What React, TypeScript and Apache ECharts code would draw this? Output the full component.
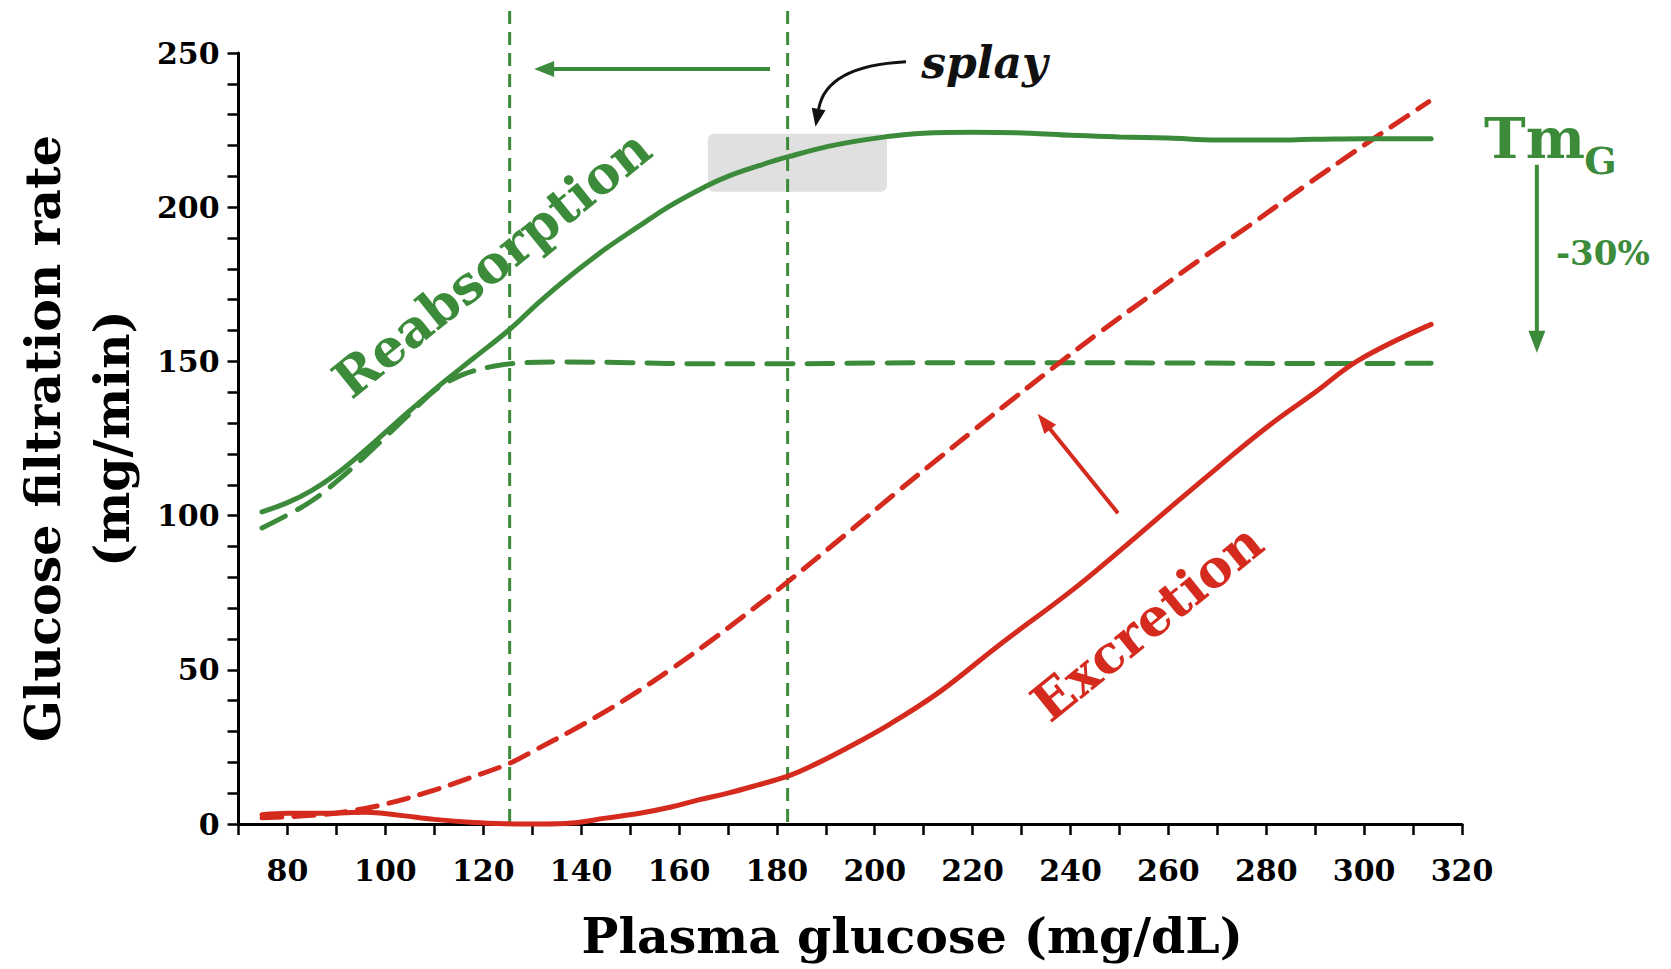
import React, { useEffect, useRef } from "react";
import * as echarts from "echarts";

const GREEN = "#3b8b3a";
const RED = "#d52a1e";
const FONT = '"DejaVu Serif", "Liberation Serif", serif';

// x axis (Plasma glucose, mg/dL) and y axis (mg/min)
const xMin = 70;
const xMax = 320;
const xStep = 10;
const xLabelStep = 20;
const yMin = 0;
const yMax = 250;
const yStep = 10;
const yLabelStep = 50;

// Reabsorption, normal TmG (solid green)
const reabsorptionNormal: [number, number][] = [
  [74.8, 101.2], [80, 104.2], [85, 108.2], [90, 113.5], [95, 120], [100, 127],
  [105, 134], [110.9, 142], [118, 151], [125.5, 160.5], [131.5, 169.3], [138, 178],
  [145, 186.5], [151.6, 193.6], [158, 200.3], [165.3, 206.6], [170, 210],
  [176, 213.3], [182.2, 216.3], [192, 220.2], [202.6, 222.9], [209.9, 224],
  [220, 224.3], [231.7, 224], [240, 223.3], [250, 222.8], [260, 222.4],
  [270, 221.8], [280, 221.8], [290, 222], [300, 222.2], [313.7, 222.2],
];

// Reabsorption, TmG reduced by 30% (dashed green)
const reabsorptionReduced: [number, number][] = [
  [74.8, 96], [80, 100.2], [85, 104.8], [90, 111], [95, 118], [100, 125.5],
  [105, 133], [110, 140.5], [114, 144.4], [118, 146.9], [121.7, 148.3], [126.6, 149.4],
  [135, 149.8], [150, 149.6], [165, 149.2], [180, 149.2], [200, 149.5],
  [230, 149.6], [260, 149.5], [290, 149.3], [313.7, 149.4],
];

// Excretion, normal TmG (solid red)
const excretionNormal: [number, number][] = [
  [74.8, 3], [80, 3.5], [88, 3.5], [96, 3.8], [103, 2.8], [110, 1.5],
  [118, 0.5], [125, 0.1], [132, 0], [138, 0.3], [145, 1.9], [152, 3.5],
  [158.4, 5.5], [164, 7.8], [170, 10], [176, 12.6], [182.2, 15.5], [188, 19.5],
  [193, 23.5], [203.2, 32.5], [213.4, 43], [225, 57.5], [240.5, 76], [250, 88.5],
  [260.9, 103.3], [270, 115.5], [280, 128.5], [290, 140], [299, 150.5], [313.7, 162],
];

// Excretion, TmG reduced (dashed red)
const excretionReduced: [number, number][] = [
  [74.8, 2], [85, 2.8], [92, 4], [100.6, 6.7], [110, 11], [117, 14.8],
  [125.4, 19.7], [131, 24.3], [138, 30.2], [145, 36.5], [151.6, 43],
  [158, 49.8], [165.3, 58], [175.5, 70.2], [182.2, 78.5], [193, 92.5],
  [205.2, 108.5], [213.4, 119], [220.1, 127.5], [228, 137.5], [237.8, 149.6],
  [246, 159.5], [256, 171], [266, 182.5], [276.5, 194], [288, 207],
  [299.5, 219.6], [313.2, 234.2],
];

// Thresholds (vertical dashed lines) and annotations, in data units
const thresholdX = [125.4, 182.2];
const thresholdTop = 264.5;
const splayBox: [number, number][] = [[165.9, 223.8], [202.5, 205]];
const shiftArrow: [number, number][] = [[178.6, 244.8], [130.4, 244.8]];
const splayCurve: [number, number][] = [[206.4, 247.2], [190.1, 245.9], [187.9, 226.1]];
const splayLabel: [number, number] = [209.5, 247];
const excretionArrow: [number, number][] = [[249.7, 100.8], [233.3, 133]];
const tmLabel: [number, number] = [324.5, 222.5];
const tmSub: [number, number] = [345, 215.3];
const tmArrow: [number, number][] = [[335.3, 213.8], [335.3, 152.8]];
const pctLabel: [number, number] = [339.2, 185.2];
const reabsLabel: [number, number] = [121.7, 181.8];
const excrLabel: [number, number] = [255.6, 65.5];

function arrow(p0: number[], p1: number[], color: string, width: number, headLen: number, headW: number) {
  const dx = p1[0] - p0[0];
  const dy = p1[1] - p0[1];
  const L = Math.hypot(dx, dy);
  const ux = dx / L;
  const uy = dy / L;
  const bx = p1[0] - ux * headLen;
  const by = p1[1] - uy * headLen;
  const nx = -uy;
  const ny = ux;
  return [
    { type: "line", shape: { x1: p0[0], y1: p0[1], x2: bx + ux * 2, y2: by + uy * 2 }, style: { stroke: color, lineWidth: width } },
    {
      type: "polygon",
      shape: { points: [[p1[0], p1[1]], [bx + nx * headW / 2, by + ny * headW / 2], [bx - nx * headW / 2, by - ny * headW / 2]] },
      style: { fill: color },
    },
  ];
}

function textEl(p: number[], text: string, color: string, size: number, opts: any = {}) {
  return {
    type: "text",
    x: p[0],
    y: p[1],
    rotation: opts.rotation || 0,
    z: 100,
    style: {
      text,
      fill: color,
      fontFamily: FONT,
      fontSize: size,
      fontWeight: "bold",
      fontStyle: opts.italic ? "italic" : "normal",
      align: opts.align || "left",
      verticalAlign: "middle",
      textAlign: opts.align || "left",
      textVerticalAlign: "middle",
    },
  };
}

export default function App() {
  const ref = useRef<HTMLDivElement>(null);

  useEffect(() => {
    document.body.style.margin = "0";
    const chart = echarts.init(ref.current!, null, { renderer: "svg" });
    const lineSeries = (name: string, data: [number, number][], color: string, dash: any) => ({
      name,
      type: "line",
      data,
      smooth: 0.4,
      showSymbol: false,
      symbol: "none",
      clip: false,
      lineStyle: { color, width: 5, type: dash, cap: "round" },
      z: 3,
    });
    chart.setOption({
      animation: false,
      backgroundColor: "#ffffff",
      grid: { left: 237, right: 209, top: 53, bottom: 145 },
      xAxis: {
        type: "value",
        min: xMin,
        max: xMax,
        interval: xStep,
        name: "Plasma glucose (mg/dL)",
        nameLocation: "middle",
        nameGap: 87,
        nameTextStyle: { fontFamily: FONT, fontWeight: "bold", fontSize: 49, color: "#000", padding: [0, 0, 0, 124] },
        axisLine: { lineStyle: { color: "#000", width: 3 } },
        axisTick: { length: 11, lineStyle: { color: "#000", width: 2.5 } },
        axisLabel: {
          margin: 31,
          fontFamily: FONT,
          fontWeight: "bold",
          fontSize: 30,
          color: "#000",
          formatter: (v: number) => (v % xLabelStep === 0 ? String(v) : ""),
        },
        splitLine: { show: false },
      },
      yAxis: {
        type: "value",
        min: yMin,
        max: yMax,
        interval: yStep,
        name: "Glucose filtration rate\n(mg/min)",
        nameLocation: "middle",
        nameRotate: 90,
        nameGap: 90,
        nameTextStyle: { fontFamily: FONT, fontWeight: "bold", fontSize: 49, lineHeight: 69, color: "#000" },
        axisLine: { lineStyle: { color: "#000", width: 3 } },
        axisTick: { length: 11, lineStyle: { color: "#000", width: 2.5 } },
        axisLabel: {
          margin: 19,
          fontFamily: FONT,
          fontWeight: "bold",
          fontSize: 30,
          color: "#000",
          formatter: (v: number) => (v % yLabelStep === 0 ? String(v) : ""),
        },
        splitLine: { show: false },
      },
      series: [
        lineSeries("Reabsorption (TmG -30%)", reabsorptionReduced, GREEN, [26, 14]),
        lineSeries("Excretion (TmG -30%)", excretionReduced, RED, [20, 12]),
        lineSeries("Reabsorption", reabsorptionNormal, GREEN, "solid"),
        lineSeries("Excretion", excretionNormal, RED, "solid"),
      ],
    });

    const px = (p: number[]) => chart.convertToPixel({ gridIndex: 0 }, p) as number[];
    const g: any[] = [];
    // gray splay box
    const b0 = px(splayBox[0]);
    const b1 = px(splayBox[1]);
    g.push({
      type: "rect",
      z: 0,
      shape: { x: b0[0], y: b0[1], width: b1[0] - b0[0], height: b1[1] - b0[1], r: 6 },
      style: { fill: "#e0e0e0" },
    });
    // threshold lines
    thresholdX.forEach((x) => {
      const a = px([x, 0]);
      const t = px([x, thresholdTop]);
      g.push({
        type: "line",
        z: 1,
        shape: { x1: a[0], y1: a[1] - 2, x2: t[0], y2: t[1] },
        style: { stroke: GREEN, lineWidth: 3, lineDash: [13, 8] },
      });
    });
    // shift arrow at top
    g.push(...arrow(px(shiftArrow[0]), px(shiftArrow[1]), GREEN, 4, 20, 16));
    // splay curved arrow
    const s0 = px(splayCurve[0]);
    const sc = px(splayCurve[1]);
    const s1 = px(splayCurve[2]);
    const dx = s1[0] - sc[0];
    const dy = s1[1] - sc[1];
    const L = Math.hypot(dx, dy);
    const ux = dx / L;
    const uy = dy / L;
    const hl = 18;
    const hw = 14;
    const bx = s1[0] - ux * hl;
    const by = s1[1] - uy * hl;
    g.push({
      type: "bezierCurve",
      shape: { x1: s0[0], y1: s0[1], cpx1: sc[0], cpy1: sc[1], x2: bx, y2: by },
      style: { stroke: "#111", lineWidth: 3, fill: "none" },
    });
    g.push({
      type: "polygon",
      shape: { points: [[s1[0], s1[1]], [bx - uy * hw / 2, by + ux * hw / 2], [bx + uy * hw / 2, by - ux * hw / 2]] },
      style: { fill: "#111" },
    });
    g.push(textEl(px(splayLabel), "splay", "#111", 44, { italic: true }));
    // excretion shift arrow
    g.push(...arrow(px(excretionArrow[0]), px(excretionArrow[1]), RED, 4, 20, 15));
    // TmG and -30%
    g.push(textEl(px(tmLabel), "Tm", GREEN, 56));
    g.push(textEl(px(tmSub), "G", GREEN, 38));
    g.push(...arrow(px(tmArrow[0]), px(tmArrow[1]), GREEN, 4, 22, 17));
    g.push(textEl(px(pctLabel), "-30%", GREEN, 34));
    // curve labels
    g.push(textEl(px(reabsLabel), "Reabsorption", GREEN, 52, { align: "center", rotation: (39 * Math.PI) / 180 }));
    g.push(textEl(px(excrLabel), "Excretion", RED, 52, { align: "center", rotation: (39 * Math.PI) / 180 }));
    chart.setOption({ graphic: { elements: g } });

    return () => chart.dispose();
  }, []);

  return <div ref={ref} style={{ width: "100vw", height: "100vh" }} />;
}
